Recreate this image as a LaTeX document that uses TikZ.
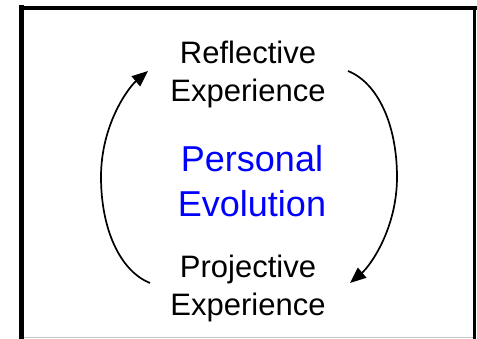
\documentclass[tikz,border=0pt]{standalone}
\usepackage{fontspec}
\setmainfont{Liberation Sans}
\usetikzlibrary{arrows.meta}
\definecolor{pblue}{RGB}{0,0,255}
\definecolor{edgegray}{RGB}{200,200,200}
\begin{document}
\begin{tikzpicture}[x=1pt,y=1pt,
  lbl/.style={align=center,inner sep=0pt,font=\fontsize{31}{38}\selectfont},
  core/.style={align=center,inner sep=0pt,text=pblue,font=\fontsize{36}{45}\selectfont},
  cyc/.style={line width=1.7pt,-{Triangle[length=16pt,width=13pt]}},
  frame/.style={line width=#1,line cap=rect}]
\useasboundingbox (0,0) rectangle (477,339);
\fill[white] (0,0) rectangle (477,339);
% frame
\draw[frame=5pt] (21.5,0) -- (21.5,331);
\draw[frame=4pt] (21.5,331) -- (474.5,331);
\draw[frame=3pt] (474.5,331) -- (474.5,0);
\draw[edgegray,line width=1pt] (24,1) -- (473,1);
% texts
\node[lbl]  (refl) at (248,265) {Reflective\\Experience};
\node[core] (pers) at (252,158) {Personal\\Evolution};
\node[lbl]  (proj) at (248,51) {Projective\\Experience};
% connector end points
\coordinate (lb) at (150,56);
\coordinate (lm) at (101,162);
\coordinate (lt) at (148,268);
\coordinate (rt) at (348,268);
\coordinate (rm) at (397,162);
\coordinate (rb) at (350,56);
% cycle arcs
\draw[cyc] (lb) .. controls (120,68) and (101,110) .. (lm)
               .. controls (101,214) and (128,251) .. (lt);
\draw[cyc] (rt) .. controls (378,256) and (397,214) .. (rm)
               .. controls (397,110) and (370,73) .. (rb);
\end{tikzpicture}
\end{document}
